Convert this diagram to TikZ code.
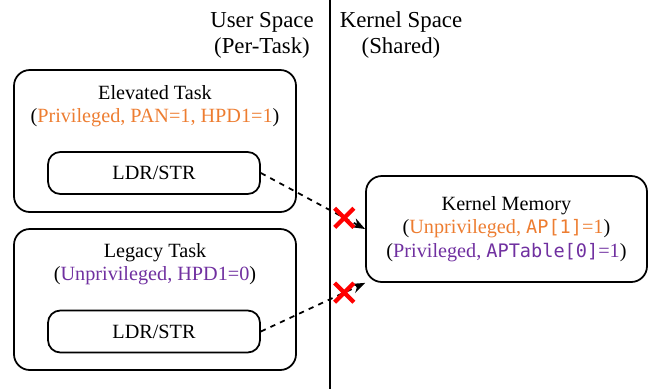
\documentclass[tikz,border=0pt]{standalone}
\usepackage{fontspec}
\setmainfont{Liberation Serif}
\setmonofont[Scale=0.92]{DejaVu Sans Mono}
\usetikzlibrary{arrows.meta,shapes.misc}
\definecolor{privorange}{RGB}{237,125,49}
\definecolor{unprivpurple}{RGB}{112,48,160}

\begin{document}
\begin{tikzpicture}[font=\fontsize{11.5}{13.2}\selectfont,>=Stealth,
 task/.style={draw,line width=1pt,rounded corners=9pt,minimum width=5.64cm,minimum height=2.84cm},
 insn/.style={draw,line width=1pt,rounded corners=7pt,minimum width=4.24cm,minimum height=0.84cm},
 access/.style={draw,line width=1pt,dashed,->},
 denied/.style={cross out,draw=red,solid,line width=2.4pt,minimum size=0.3cm,inner sep=0pt}]
\useasboundingbox (0,0) rectangle (13.04,7.78);
% user/kernel split
\node[align=center,font=\fontsize{13}{14.8}\selectfont] (user) at (5.24,7.08) {User Space\\(Per-Task)};
\node[align=center,font=\fontsize{13}{14.8}\selectfont] (kern) at (8.02,7.08) {Kernel Space\\(Shared)};
\coordinate (splittop) at (6.6,7.78);
\coordinate (splitbot) at (6.6,0);
\draw[line width=1pt] (splittop)--(splitbot);
% tasks
\node[task] (elev) at (3.10,4.96) {};
\node[align=center] (elevtxt) at (3.10,5.66) {Elevated Task\\(\textcolor{privorange}{Privileged, PAN=1, HPD1=1})};
\node[insn] (elevop) at (3.08,4.32) {LDR/STR};
\node[task,minimum height=2.82cm] (legacy) at (3.10,1.79) {};
\node[align=center] (legacytxt) at (3.10,2.50) {Legacy Task\\(\textcolor{unprivpurple}{Unprivileged, HPD1=0})};
\node[insn] (legacyop) at (3.08,1.15) {LDR/STR};
% kernel side
\node[task,minimum width=5.62cm,minimum height=2.12cm,align=center] (kmem) at (10.13,3.20)
 {Kernel Memory\\(\textcolor{privorange}{Unprivileged, \texttt{AP[1]}=1})\\(\textcolor{unprivpurple}{Privileged, \texttt{APTable[0]}=1})};
% blocked accesses
\draw[access] (elevop.east) -- node[pos=.8,denied] (x1) {} (kmem.west);
\draw[access] (legacyop.east) -- node[pos=.8,denied] (x2) {} (kmem.south west);
\end{tikzpicture}
\end{document}
